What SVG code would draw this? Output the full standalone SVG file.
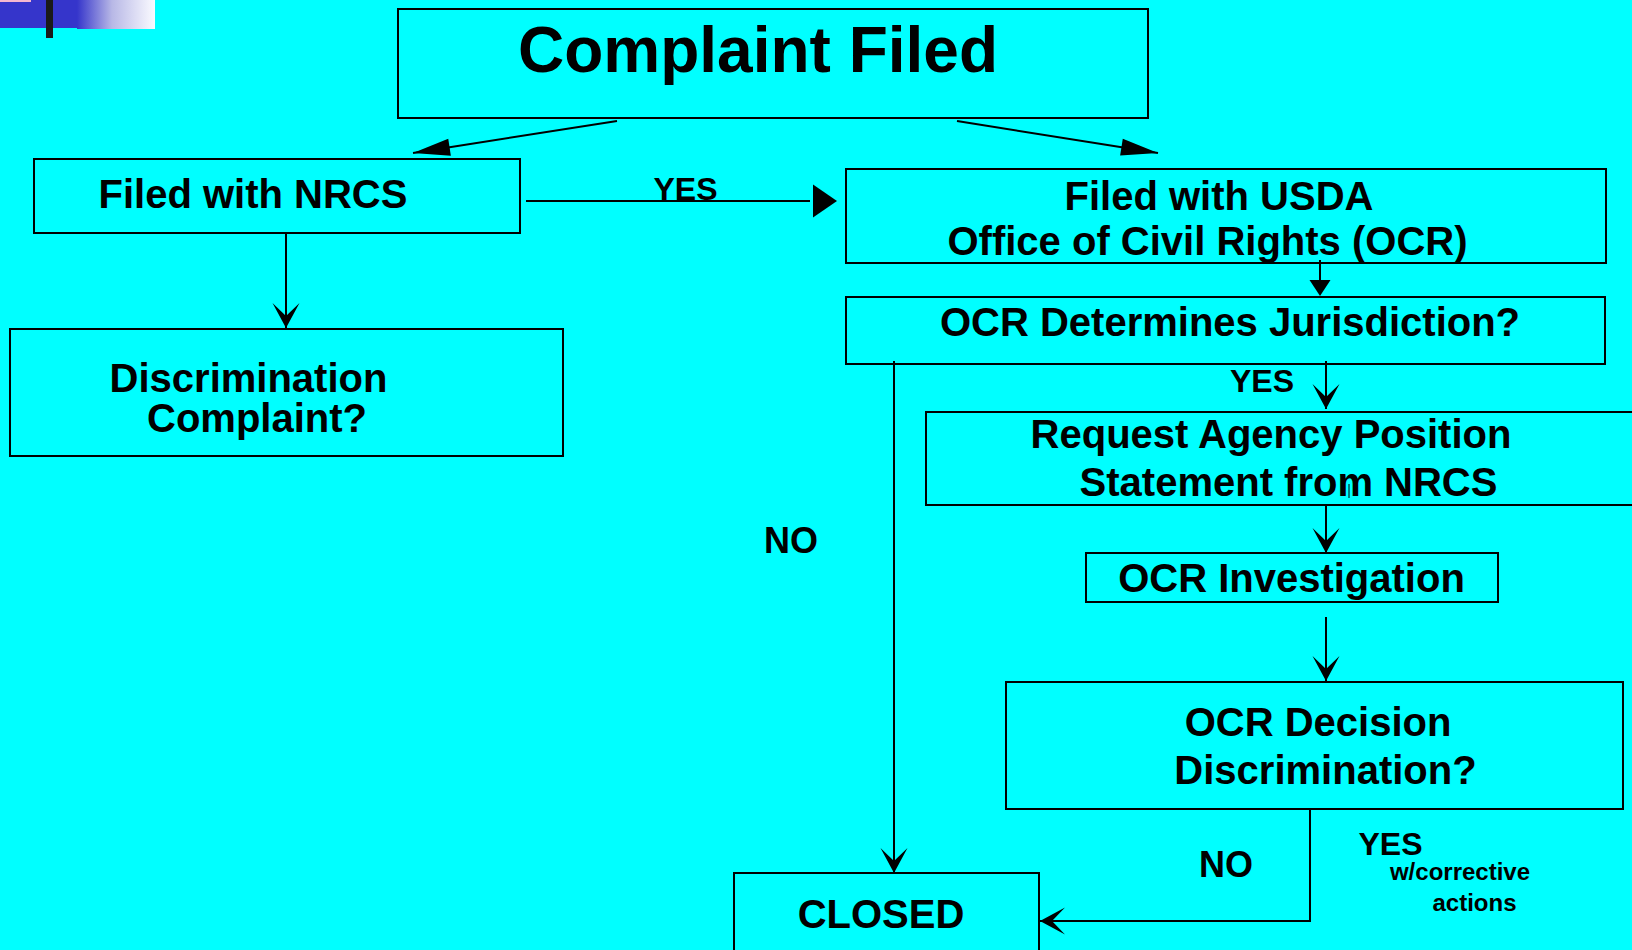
<svg xmlns="http://www.w3.org/2000/svg" width="1632" height="950" viewBox="0 0 1632 950">
<style>
.box{fill:none;stroke:#000;stroke-width:2}
.t{font-family:"Liberation Sans",Arial,sans-serif;font-weight:bold;fill:#000;text-anchor:middle}
.t40{font-size:40px}
.t32{font-size:32px}
.t36{font-size:36px}
.t24{font-size:24px}
.c{fill:none;stroke:#000;stroke-width:2}
</style>
<defs>
<linearGradient id="fade" x1="0" y1="0" x2="1" y2="0">
<stop offset="0" stop-color="#3535CB"/>
<stop offset="0.45" stop-color="#B8B8E6"/>
<stop offset="1" stop-color="#FBFBFF"/>
</linearGradient>
<marker id="stealth" markerUnits="userSpaceOnUse" viewBox="-28 -15 30 30" refX="0" refY="0" markerWidth="30" markerHeight="30" orient="auto" overflow="visible">
<path d="M0,0 L-25,-13.5 L-12,0 L-25,13.5 Z" fill="#000"/>
</marker>
<marker id="longtri" markerUnits="userSpaceOnUse" viewBox="-40 -10 42 20" refX="0" refY="0" markerWidth="42" markerHeight="20" orient="auto" overflow="visible">
<path d="M0,0 L-37,-8.5 L-37,8.5 Z" fill="#000"/>
</marker>
<marker id="bigtri" markerUnits="userSpaceOnUse" viewBox="0 -18 30 36" refX="0" refY="0" markerWidth="30" markerHeight="36" orient="auto" overflow="visible">
<path d="M3,-16.5 L27,0 L3,16.5 Z" fill="#000"/>
</marker>
<marker id="smalltri" markerUnits="userSpaceOnUse" viewBox="0 -12 18 24" refX="0" refY="0" markerWidth="18" markerHeight="24" orient="auto" overflow="visible">
<path d="M0,-10.5 L16,0 L0,10.5 Z" fill="#000"/>
</marker>
</defs>
<rect x="0" y="0" width="1632" height="950" fill="#00FFFF"/>
<g id="logo">
<rect x="0" y="0" width="78" height="28" fill="#3535CB"/>
<rect x="77" y="0" width="78" height="29" fill="url(#fade)"/>
<rect x="0" y="0" width="31" height="2" fill="#F4B8D0"/>
<rect x="46" y="0" width="7" height="38" fill="#1A1A1A"/>
</g>
<g id="connectors">
<line class="c" x1="617" y1="121" x2="413" y2="153" marker-end="url(#longtri)"/>
<line class="c" x1="957" y1="121" x2="1158" y2="153" marker-end="url(#longtri)"/>
<line class="c" x1="526" y1="201" x2="810" y2="201" marker-end="url(#bigtri)"/>
<line class="c" x1="286" y1="233" x2="286" y2="328" marker-end="url(#stealth)"/>
<line class="c" x1="1320" y1="260" x2="1320" y2="280" marker-end="url(#smalltri)"/>
<line class="c" x1="1326" y1="361" x2="1326" y2="409" marker-end="url(#stealth)"/>
<line class="c" x1="894" y1="361" x2="894" y2="873" marker-end="url(#stealth)"/>
<line class="c" x1="1326" y1="505" x2="1326" y2="553" marker-end="url(#stealth)"/>
<line class="c" x1="1326" y1="617" x2="1326" y2="681" marker-end="url(#stealth)"/>
<polyline class="c" points="1310,809 1310,921 1040,921" marker-end="url(#stealth)"/>
<line x1="1349" y1="484" x2="1349" y2="498" stroke="#000" stroke-width="1"/>
<text class="t t32" x="685.5" y="200">YES</text>
<text class="t t32" x="1262" y="392">YES</text>
<text class="t t36" x="791" y="553">NO</text>
<text class="t t36" x="1226" y="877">NO</text>
<text class="t t32" x="1390.5" y="855">YES</text>
<text class="t t24" x="1460" y="880">w/corrective</text>
<text class="t t24" x="1474.5" y="911">actions</text>
</g>
<g id="complaint-filed">
<rect class="box" x="398" y="9" width="750" height="109"/>
<text class="t" x="758" y="72" font-size="64">Complaint Filed</text>
</g>
<g id="filed-nrcs">
<rect class="box" x="34" y="159" width="486" height="74"/>
<text class="t t40" x="253" y="208">Filed with NRCS</text>
</g>
<g id="discrimination-complaint">
<rect class="box" x="10" y="329" width="553" height="127"/>
<text class="t t40" x="248.5" y="392">Discrimination</text>
<text class="t t40" x="257" y="432">Complaint?</text>
</g>
<g id="filed-usda">
<rect class="box" x="846" y="169" width="760" height="94"/>
<text class="t t40" x="1219" y="210">Filed with USDA</text>
<text class="t t40" x="1207.5" y="255">Office of Civil Rights (OCR)</text>
</g>
<g id="ocr-jurisdiction">
<rect class="box" x="846" y="297" width="759" height="67"/>
<text class="t t40" x="1230" y="336">OCR Determines Jurisdiction?</text>
</g>
<g id="request-position">
<rect class="box" x="926" y="412" width="720" height="93"/>
<text class="t t40" x="1271" y="448">Request Agency Position</text>
<text class="t t40" x="1288.5" y="496">Statement from NRCS</text>
</g>
<g id="ocr-investigation">
<rect class="box" x="1086" y="553" width="412" height="49"/>
<text class="t t40" x="1291.5" y="592">OCR Investigation</text>
</g>
<g id="ocr-decision">
<rect class="box" x="1006" y="682" width="617" height="127"/>
<text class="t t40" x="1318" y="736">OCR Decision</text>
<text class="t t40" x="1325.5" y="784">Discrimination?</text>
</g>
<g id="closed">
<rect class="box" x="734" y="873" width="305" height="100"/>
<text class="t t40" x="881" y="928">CLOSED</text>
</g>
</svg>
